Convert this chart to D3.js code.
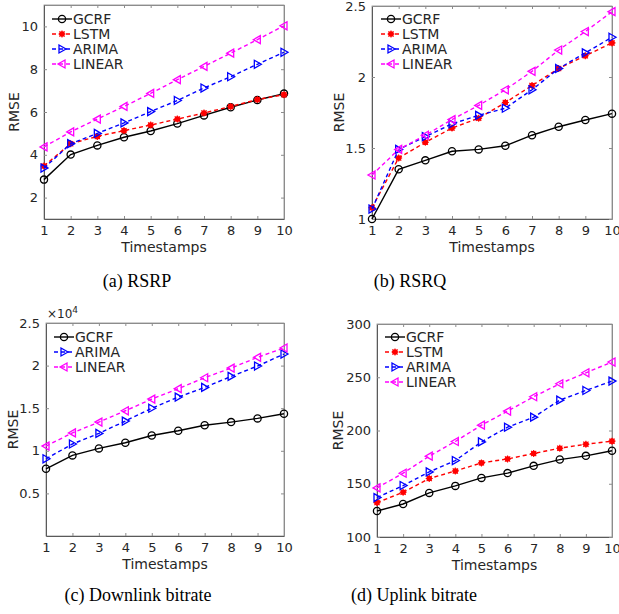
<!DOCTYPE html>
<html>
<head>
<meta charset="utf-8">
<script src="https://cdn.jsdelivr.net/npm/d3@7"></script>
<style>
body { margin: 0; background: #fff; }
svg text { font-family: "DejaVu Sans", sans-serif; fill: #262626; }
.cap { font-family: "Liberation Serif", serif; fill: #000; }
</style>
</head>
<body>
<script>
var steps = [1, 2, 3, 4, 5, 6, 7, 8, 9, 10];

// (a) RSRP
var rsrpGCRF   = [2.84, 4.01, 4.44, 4.82, 5.11, 5.46, 5.84, 6.22, 6.56, 6.86];
var rsrpLSTM   = [3.48, 4.52, 4.86, 5.13, 5.39, 5.67, 5.95, 6.26, 6.58, 6.81];
var rsrpARIMA  = [3.38, 4.52, 5.00, 5.49, 6.02, 6.54, 7.12, 7.65, 8.23, 8.79];
var rsrpLINEAR = [4.37, 5.07, 5.67, 6.26, 6.87, 7.51, 8.13, 8.75, 9.38, 10.03];
var rsrpTicks  = [2, 4, 6, 8, 10];

// (b) RSRQ
var rsrqGCRF   = [1.00, 1.35, 1.413, 1.477, 1.49, 1.516, 1.59, 1.65, 1.697, 1.742];
var rsrqLSTM   = [1.08, 1.43, 1.54, 1.64, 1.71, 1.82, 1.94, 2.06, 2.15, 2.24];
var rsrqARIMA  = [1.07, 1.49, 1.58, 1.67, 1.73, 1.78, 1.91, 2.06, 2.17, 2.28];
var rsrqLINEAR = [1.31, 1.49, 1.59, 1.70, 1.80, 1.91, 2.04, 2.19, 2.32, 2.46];
var rsrqTicks  = [1, 1.5, 2, 2.5];

// (c) Downlink bitrate (x10^4)
var dlGCRF   = [0.789, 0.946, 1.028, 1.094, 1.18, 1.235, 1.30, 1.337, 1.38, 1.435];
var dlARIMA  = [0.906, 1.08, 1.204, 1.349, 1.50, 1.63, 1.744, 1.873, 1.995, 2.136];
var dlLINEAR = [1.055, 1.21, 1.337, 1.47, 1.607, 1.729, 1.858, 1.971, 2.097, 2.207];
var dlTicks  = [0.5, 1, 1.5, 2, 2.5];

// (d) Uplink bitrate
var ulGCRF   = [124.4, 131, 141.4, 148, 155.5, 160, 166.8, 172.7, 176.2, 181];
var ulLSTM   = [132.3, 142, 154.9, 162, 169.6, 173.3, 178.4, 183.4, 187.1, 190];
var ulARIMA  = [137, 148.3, 161.1, 171.8, 189.3, 203.1, 212.5, 228.5, 237.6, 246.4];
var ulLINEAR = [146.1, 159.9, 175.9, 189.7, 205, 218.2, 231.7, 243.9, 254.2, 264.3];
var ulTicks  = [100, 150, 200, 250, 300];

var styles = {
  GCRF:   {color: "#000000", dash: null,  marker: "circle"},
  LSTM:   {color: "#ff0000", dash: "4,3", marker: "star"},
  ARIMA:  {color: "#0000ff", dash: "4,3", marker: "right"},
  LINEAR: {color: "#ff00ff", dash: "4,3", marker: "left"}
};

var svg = d3.select("body").append("svg").attr("width", 619).attr("height", 614);

function drawMarker(g, type, x, y, color) {
  if (type == "circle") {
    g.append("circle").attr("cx", x).attr("cy", y).attr("r", 3.6)
      .attr("fill", "none").attr("stroke", color).attr("stroke-width", 1.3);
  } else if (type == "star") {
    g.append("circle").attr("cx", x).attr("cy", y).attr("r", 2.8).attr("fill", color);
    g.append("path").attr("d", "M" + (x - 3.5) + "," + y + "h7M" + x + "," + (y - 3.5) + "v7M" + (x - 2.6) + "," + (y - 2.6) + "l5.2,5.2M" + (x - 2.6) + "," + (y + 2.6) + "l5.2,-5.2")
      .attr("stroke", color).attr("stroke-width", 1.1);
  } else if (type == "right") {
    g.append("path").attr("d", "M" + (x - 3) + "," + (y - 4) + "L" + (x + 4) + "," + y + "L" + (x - 3) + "," + (y + 4) + "Z")
      .attr("fill", "none").attr("stroke", color).attr("stroke-width", 1.3);
  } else {
    g.append("path").attr("d", "M" + (x + 3) + "," + (y - 4) + "L" + (x - 4) + "," + y + "L" + (x + 3) + "," + (y + 4) + "Z")
      .attr("fill", "none").attr("stroke", color).attr("stroke-width", 1.3);
  }
}

function drawPanel(p) {
  var x = d3.scaleLinear().domain([1, 10]).range([p.left, p.right]);
  var y = d3.scaleLinear().domain(p.ydomain).range([p.bottom, p.top]);
  var g = svg.append("g");

  // box
  g.append("rect").attr("x", p.left).attr("y", p.top)
    .attr("width", p.right - p.left).attr("height", p.bottom - p.top)
    .attr("fill", "none").attr("stroke", "#8c8c8c").attr("stroke-width", 0.8);

  // axes (ticks inside)
  var xa = g.append("g").attr("transform", "translate(0," + p.bottom + ")")
    .call(d3.axisBottom(x).tickValues(steps).tickSizeInner(-3).tickSizeOuter(0).tickPadding(7));
  var xt = g.append("g").attr("transform", "translate(0," + p.top + ")")
    .call(d3.axisTop(x).tickValues(steps).tickSizeInner(-3).tickSizeOuter(0).tickFormat(""));
  var ya = g.append("g").attr("transform", "translate(" + p.left + ",0)")
    .call(d3.axisLeft(y).tickValues(p.ticks).tickSizeInner(-3).tickSizeOuter(0).tickPadding(6)
      .tickFormat(function(d) { return d3.format("")(d); }));
  var yr = g.append("g").attr("transform", "translate(" + p.right + ",0)")
    .call(d3.axisRight(y).tickValues(p.ticks).tickSizeInner(-3).tickSizeOuter(0).tickFormat(""));
  [xa, xt, ya, yr].forEach(function(a) {
    a.select(".domain").attr("stroke", "#8c8c8c");
    a.selectAll(".tick line").attr("stroke", "#8c8c8c");
    a.selectAll("text").attr("font-size", 13).attr("fill", "#262626").attr("font-family", "DejaVu Sans, sans-serif");
  });
  xa.select(".domain").attr("stroke", "#5a5a5a");
  ya.select(".domain").attr("stroke", "#5a5a5a");

  // series
  p.series.forEach(function(s) {
    var st = styles[s.name];
    var line = d3.line().x(function(d, i) { return x(steps[i]); }).y(function(d) { return y(d); });
    g.append("path").datum(s.values).attr("d", line).attr("fill", "none")
      .attr("stroke", st.color).attr("stroke-width", 1.4)
      .attr("stroke-dasharray", st.dash);
    s.values.forEach(function(v, i) {
      drawMarker(g, st.marker, x(steps[i]), y(v), st.color);
    });
  });

  // legend
  p.series.forEach(function(s, i) {
    var st = styles[s.name];
    var ly = p.legY + i * 15;
    g.append("line").attr("x1", p.legX).attr("x2", p.legX + 20).attr("y1", ly).attr("y2", ly)
      .attr("stroke", st.color).attr("stroke-width", 1.4).attr("stroke-dasharray", st.dash);
    drawMarker(g, st.marker, p.legX + 10, ly, st.color);
    g.append("text").attr("x", p.legX + 21).attr("y", ly + 5).attr("font-size", 14).text(s.name);
  });

  // labels
  g.append("text").attr("x", (p.left + p.right) / 2).attr("y", p.bottom + 33)
    .attr("text-anchor", "middle").attr("font-size", 14).text("Timestamps");
  g.append("text").attr("transform", "translate(" + p.ylabX + "," + ((p.top + p.bottom) / 2) + ") rotate(-90)")
    .attr("text-anchor", "middle").attr("font-size", 14).text("RMSE");
  g.append("text").attr("class", "cap").attr("x", p.capX).attr("y", p.capY)
    .attr("text-anchor", "middle").attr("font-size", 18).text(p.caption);
  if (p.exponent) {
    var e = g.append("text").attr("x", p.left + 1).attr("y", p.top - 5).attr("font-size", 12);
    e.append("tspan").text("\u00d710");
    e.append("tspan").attr("dy", -5).attr("font-size", 9).text("4");
  }
}

drawPanel({left: 44, right: 284, top: 5, bottom: 219, ydomain: [1, 11], ticks: rsrpTicks,
  series: [{name: "GCRF", values: rsrpGCRF}, {name: "LSTM", values: rsrpLSTM},
           {name: "ARIMA", values: rsrpARIMA}, {name: "LINEAR", values: rsrpLINEAR}],
  legX: 52, legY: 19, ylabX: 19, caption: "(a)  RSRP", capX: 137, capY: 287});

drawPanel({left: 372, right: 612, top: 6, bottom: 219, ydomain: [1, 2.5], ticks: rsrqTicks,
  series: [{name: "GCRF", values: rsrqGCRF}, {name: "LSTM", values: rsrqLSTM},
           {name: "ARIMA", values: rsrqARIMA}, {name: "LINEAR", values: rsrqLINEAR}],
  legX: 381, legY: 19, ylabX: 344, caption: "(b)  RSRQ", capX: 410, capY: 287});

drawPanel({left: 46, right: 284, top: 323, bottom: 536, ydomain: [0, 2.5], ticks: dlTicks,
  series: [{name: "GCRF", values: dlGCRF}, {name: "ARIMA", values: dlARIMA},
           {name: "LINEAR", values: dlLINEAR}],
  legX: 54, legY: 337, ylabX: 18, caption: "(c)  Downlink bitrate", capX: 138, capY: 601, exponent: true});

drawPanel({left: 377, right: 612, top: 324, bottom: 537, ydomain: [100, 300], ticks: ulTicks,
  series: [{name: "GCRF", values: ulGCRF}, {name: "LSTM", values: ulLSTM},
           {name: "ARIMA", values: ulARIMA}, {name: "LINEAR", values: ulLINEAR}],
  legX: 385, legY: 337, ylabX: 343, caption: "(d)  Uplink bitrate", capX: 414, capY: 601});
</script>
</body>
</html>
